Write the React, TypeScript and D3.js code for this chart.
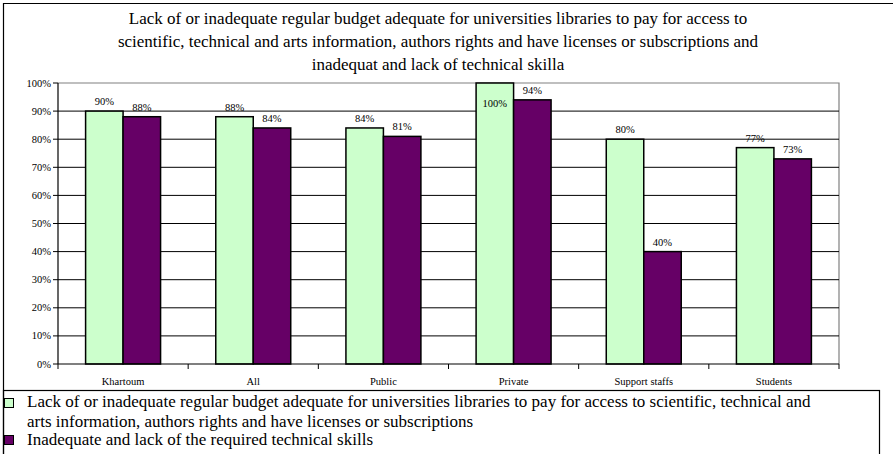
import React from "react";
import * as d3 from "d3";

const categories = ["Khartoum", "All", "Public", "Private", "Support staffs", "Students"];
const budgetValues = [90, 88, 84, 100, 80, 77];
const skillsValues = [88, 84, 81, 94, 40, 73];
const yTicks = [0, 10, 20, 30, 40, 50, 60, 70, 80, 90, 100];
const titleLines = [
  "Lack of or inadequate regular budget adequate for universities libraries to pay for access to",
  "scientific, technical and arts information, authors rights and have licenses or subscriptions and",
  "inadequat and lack of technical skilla",
];
const legendBudget = [
  "Lack of or inadequate regular budget adequate for universities libraries to pay for access to scientific, technical and",
  "arts information, authors rights and have licenses or subscriptions",
];
const legendSkills = "Inadequate and lack of the required technical skills";

const W = 893;
const H = 454;
const plot = { left: 58, right: 839, top: 83, bottom: 364 };
const GREEN = "#CCFFCC";
const PURPLE = "#660066";

export default function App() {
  const x = d3.scaleBand<string>().domain(categories).range([plot.left, plot.right]).paddingInner(0).paddingOuter(0);
  const y = d3.scaleLinear().domain([0, 100]).range([plot.bottom, plot.top]);
  const band = x.bandwidth();
  const groupW = band * 0.576;
  const barW = groupW / 2;

  const series = [
    { values: budgetValues, color: GREEN, offset: 0 },
    { values: skillsValues, color: PURPLE, offset: 1 },
  ];

  return (
    <div style={{ fontFamily: "Liberation Serif" }}>
      <style>{"html,body{margin:0;padding:0;overflow:hidden}"}</style>
      <svg width={W} height={H} fontFamily="Liberation Serif" style={{ display: "block", fontFamily: "Liberation Serif" }}>
        <rect x={0} y={0} width={W} height={H} fill="#fff" />
        <path d={`M3.5,${H} V3.5 H${W}`} fill="none" stroke="#000" strokeWidth={1.2} />
        {titleLines.map((t, i) => (
          <text key={i} x={438} y={24 + i * 23} textAnchor="middle" fontSize={17} fill="#000">
            {t}
          </text>
        ))}
        <path d={`M${plot.left},${plot.top} H${plot.right} V${plot.bottom}`} fill="none" stroke="#808080" strokeWidth={1.2} />
        {yTicks.filter((v) => v > 0 && v < 100).map((v) => (
          <line key={v} x1={plot.left} x2={plot.right} y1={y(v)} y2={y(v)} stroke="#000" strokeWidth={1} />
        ))}
        {categories.map((c, i) =>
          series.map((s) => {
            const x0 = (x(c) as number) + (band - groupW) / 2 + s.offset * barW;
            const v = s.values[i];
            return (
              <rect key={c + s.offset} x={x0} y={y(v)} width={barW} height={plot.bottom - y(v)} fill={s.color} stroke="#000" strokeWidth={1.5} />
            );
          })
        )}
        {categories.map((c, i) =>
          series.map((s) => {
            const x0 = (x(c) as number) + (band - groupW) / 2 + s.offset * barW;
            const v = s.values[i];
            const ly = v >= 100 ? y(v) + 24 : y(v) - 6;
            return (
              <text key={"l" + c + s.offset} x={x0 + barW / 2} y={ly} textAnchor="middle" fontSize={10.5} fill="#000">
                {v}%
              </text>
            );
          })
        )}
        <line x1={plot.left} x2={plot.left} y1={plot.top} y2={plot.bottom} stroke="#000" strokeWidth={1.2} />
        <line x1={plot.left} x2={plot.right} y1={plot.bottom} y2={plot.bottom} stroke="#000" strokeWidth={1.2} />
        {yTicks.map((v) => (
          <g key={"yt" + v}>
            <line x1={plot.left - 5} x2={plot.left} y1={y(v)} y2={y(v)} stroke="#000" strokeWidth={1} />
            <text x={plot.left - 7} y={y(v) + 3.5} textAnchor="end" fontSize={10.5} fill="#000">
              {v}%
            </text>
          </g>
        ))}
        {categories.map((c, i) => (
          <line key={"xt" + i} x1={x(c) as number} x2={x(c) as number} y1={plot.bottom} y2={plot.bottom + 5} stroke="#000" strokeWidth={1} />
        ))}
        <line x1={plot.right} x2={plot.right} y1={plot.bottom} y2={plot.bottom + 5} stroke="#000" strokeWidth={1} />
        {categories.map((c) => (
          <text key={"xl" + c} x={(x(c) as number) + band / 2} y={385} textAnchor="middle" fontSize={10.5} fill="#000">
            {c}
          </text>
        ))}
        <rect x={3.5} y={390.5} width={876} height={70} fill="none" stroke="#000" strokeWidth={1.2} />
        <rect x={4.5} y={398.5} width={9} height={9} fill={GREEN} stroke="#000" strokeWidth={1} />
        <text x={27} y={407} fontSize={17} fill="#000">{legendBudget[0]}</text>
        <text x={27} y={426.5} fontSize={17} fill="#000">{legendBudget[1]}</text>
        <rect x={4.5} y={435.5} width={9} height={9} fill={PURPLE} stroke="#000" strokeWidth={1} />
        <text x={27} y={445} fontSize={17} fill="#000">{legendSkills}</text>
      </svg>
    </div>
  );
}
